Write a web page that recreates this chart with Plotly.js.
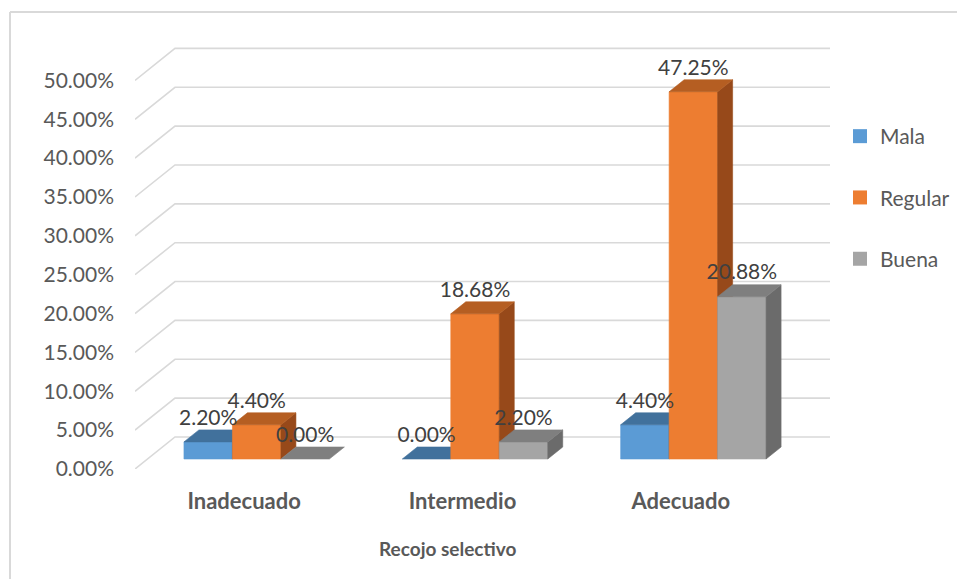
<!DOCTYPE html>
<html>
<head>
<meta charset="utf-8">
<script src="https://cdn.plot.ly/plotly-3.0.1.min.js"></script>
<style>html,body{margin:0;padding:0;background:#fff;}#chart{width:957px;height:579px;}</style>
</head>
<body>
<div id="chart"></div>
<script>
// ---- data ----
const categories = ['Inadecuado', 'Intermedio', 'Adecuado'];
const seriesNames = ['Mala', 'Regular', 'Buena'];
const mala = [2.20, 0.00, 4.40];
const regular = [4.40, 18.68, 47.25];
const buena = [0.00, 2.20, 20.88];
const yTickVals = [0, 5, 10, 15, 20, 25, 30, 35, 40, 45, 50];
const yTickText = ['0.00%', '5.00%', '10.00%', '15.00%', '20.00%', '25.00%', '30.00%', '35.00%', '40.00%', '45.00%', '50.00%'];
const xAxisTitle = 'Recojo selectivo';

// ---- style / geometry ----
const W = 957, H = 579;
const M = {l: 135, r: 127, t: 40, b: 110, autoexpand: false};
const plotW = W - M.l - M.r, plotH = H - M.t - M.b;
const xRange = [-0.5, 2.683];
const yRange = [0, 55.2];
const DX = 0.1832, DY = 4.118;          // full depth offset (data units)
const F0 = 0.3125, BD = 0.375;          // bar front depth fraction, bar depth fraction
const BW = 0.222;                        // bar width
const OFFS = [-BW, 0, BW];
const front = ['#5B9BD5', '#ED7D31', '#A5A5A5'];
const topC = ['#41719C', '#B55E22', '#7F7F7F'];
const sideC = ['#35628C', '#97491A', '#6B6B6B'];
const FONT = 'Lato, "Open Sans", sans-serif';
const seriesVals = [mala, regular, buena];

const traces = [];

// gridlines: back wall + side slants
const gx = [], gy = [];
yTickVals.forEach(t => {
  gx.push(xRange[0], xRange[0] + DX, xRange[1], null);
  gy.push(t, t + DY, t + DY, null);
});
traces.push({type: 'scatter', mode: 'lines', x: gx, y: gy, line: {color: '#D9D9D9', width: 1.6},
  hoverinfo: 'skip', showlegend: false});

function poly(xs, ys, color) {
  traces.push({type: 'scatter', mode: 'lines', x: xs.concat([xs[0]]), y: ys.concat([ys[0]]),
    fill: 'toself', fillcolor: color, line: {color: color, width: 0.6},
    hoverinfo: 'skip', showlegend: false});
}

const lx = [], ly = [], lt = [];
const b0 = F0 * DY, ddx = BD * DX, ddy = BD * DY;
categories.forEach((c, i) => {
  seriesVals.forEach((vals, s) => {
    const v = vals[i];
    const x0 = i + OFFS[s] - BW / 2 + F0 * DX, x1 = x0 + BW;
    const yt = v + b0;
    if (v > 0) {
      poly([x0, x1, x1, x0], [b0, b0, yt, yt], front[s]);
      poly([x1, x1 + ddx, x1 + ddx, x1], [b0, b0 + ddy, yt + ddy, yt], sideC[s]);
    }
    poly([x0, x1, x1 + ddx, x0 + ddx], [yt, yt, yt + ddy, yt + ddy], topC[s]);
    lx.push((x0 + x1) / 2); ly.push(yt + ddy); lt.push(v.toFixed(2) + '%');
  });
});

traces.push({type: 'scatter', mode: 'text', x: lx, y: ly, text: lt, textposition: 'top center',
  textfont: {family: FONT, size: 21, color: '#404040'}, cliponaxis: false, hoverinfo: 'skip', showlegend: false});

seriesNames.forEach((n, s) => {
  traces.push({type: 'scatter', mode: 'markers', x: [null], y: [null], name: n, legendgroup: n,
    marker: {symbol: 'square', size: 14, color: front[s]}, showlegend: true});
});

const px2x = p => (p - M.l) / plotW;
const px2y = p => (H - M.b - p) / plotH;

const layout = {
  width: W, height: H,
  margin: M,
  paper_bgcolor: '#ffffff', plot_bgcolor: '#ffffff',
  font: {family: FONT, size: 21, color: '#595959'},
  showlegend: true,
  hovermode: false,
  xaxis: {
    range: xRange, fixedrange: true, showgrid: false, zeroline: false, showline: false, ticks: '',
    tickmode: 'array', tickvals: [0, 1, 2], ticktext: categories,
    tickfont: {family: FONT, size: 22, color: '#595959', weight: 'bold'},
    ticklabelstandoff: 17, automargin: false
  },
  yaxis: {
    range: yRange, fixedrange: true, showgrid: false, zeroline: false, showline: false, ticks: '',
    tickmode: 'array', tickvals: yTickVals, ticktext: yTickText,
    tickfont: {family: FONT, size: 21, color: '#595959'},
    ticklabelstandoff: 20, automargin: false
  },
  legend: {
    x: px2x(840), xanchor: 'left', y: px2y(116), yanchor: 'top',
    font: {family: FONT, size: 21, color: '#595959'},
    tracegroupgap: 31, bgcolor: 'rgba(0,0,0,0)', borderwidth: 0
  },
  annotations: [
    {text: '<b>' + xAxisTitle + '</b>', xref: 'paper', yref: 'paper', x: px2x(447), y: px2y(548),
      xanchor: 'center', yanchor: 'middle', showarrow: false,
      font: {family: FONT, size: 19, color: '#595959'}}
  ],
  shapes: [
    {type: 'line', xref: 'paper', yref: 'paper', x0: px2x(10), x1: px2x(10), y0: px2y(12), y1: px2y(H),
      line: {color: '#D9D9D9', width: 2}},
    {type: 'line', xref: 'paper', yref: 'paper', x0: px2x(10), x1: px2x(W), y0: px2y(12), y1: px2y(12),
      line: {color: '#D9D9D9', width: 2}}
  ]
};

Plotly.newPlot('chart', traces, layout, {displayModeBar: false, staticPlot: true});
</script>
</body>
</html>
